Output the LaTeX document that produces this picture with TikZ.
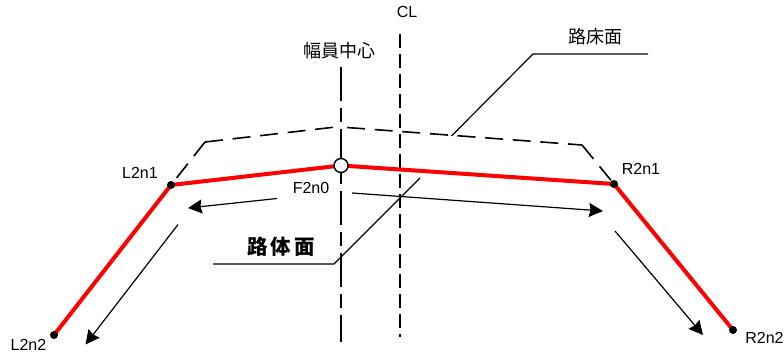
\documentclass[tikz,border=0pt]{standalone}
\usepackage{fontspec}
\setmainfont{Liberation Sans}
\newfontfamily\cjk{Noto Sans CJK JP}
\usetikzlibrary{arrows.meta}
\tikzset{
    redline/.style={red,line width=4pt},
    dashline/.style={line width=1.6pt,dash pattern=on 18pt off 9.7pt},
    clline/.style={line width=1.4pt,dash pattern=on 13.5pt off 6.5pt},
    centerline/.style={line width=1.4pt,dash pattern=on 34pt off 7pt on 14pt off 7pt},
    leader/.style={line width=1.2pt},
    dirarrow/.style={line width=1.2pt,-{Stealth[length=14pt,width=14pt,inset=1.5pt]}},
    dot/.style={circle,fill=black,inner sep=0pt,minimum size=8pt},
    hollow/.style={circle,draw=black,fill=white,line width=1.4pt,inner sep=0pt,minimum size=14pt},
    lbl/.style={inner sep=0pt,font=\fontsize{16}{18}\selectfont},
    jplbl/.style={inner sep=0pt,font=\fontsize{18}{20}\selectfont\cjk}
}
\begin{document}
\begin{tikzpicture}[x=1pt,y=-1pt]
    \useasboundingbox (0,0) rectangle (784,356);
    \coordinate (CLtop) at (400,34);
    \coordinate (CLbot) at (400,337);
    \coordinate (Ctop) at (341,67);
    \coordinate (Cbot) at (341,342);
    \coordinate (SL) at (205,142);
    \coordinate (SCl) at (333,127.3);
    \coordinate (SCr) at (347,127.5);
    \coordinate (SR) at (582,145);
    \coordinate (La) at (451.5,136);
    \coordinate (Lb) at (533,54);
    \coordinate (Lc) at (648,54);
    \coordinate (Ma) at (213,264);
    \coordinate (Mb) at (334,264);
    \coordinate (Mc) at (420,178);
    \coordinate (A1s) at (277,198.5);
    \coordinate (A1e) at (188,208);
    \coordinate (A2s) at (178,224.5);
    \coordinate (A2e) at (85.5,344.5);
    \coordinate (A3s) at (352,193);
    \coordinate (A3e) at (603,211);
    \coordinate (A4s) at (615,231);
    \coordinate (A4e) at (703,335);
    % reference lines
    \draw[clline] (CLtop) -- (CLbot);
    \draw[centerline] (Ctop) -- (Cbot);
    \coordinate (L2n2) at (54,335);
    \coordinate (L2n1) at (171,185);
    \coordinate (F2n0) at (341,165.5);
    \coordinate (R2n1) at (614,184);
    \coordinate (R2n2) at (733,330);
    \draw[dashline] (SCl) -- (SL);
    \draw[dashline] (SL) -- (L2n1);
    \draw[dashline] (SCr) -- (SR);
    \draw[dashline] (SR) -- (R2n1);
    \draw[leader] (La) -- (Lb) -- (Lc);
    \draw[leader] (Ma) -- (Mb) -- (Mc);
    \draw[redline] (L2n2) -- (L2n1) -- (F2n0) -- (R2n1) -- (R2n2);
    \node[dot] (L2n2dot) at (L2n2) {};
    \node[dot] (L2n1dot) at (L2n1) {};
    \node[dot] (R2n1dot) at (R2n1) {};
    \node[dot] (R2n2dot) at (R2n2) {};
    \node[hollow] (F2n0dot) at (F2n0) {};
    \draw[dirarrow] (A1s) -- (A1e);
    \draw[dirarrow] (A2s) -- (A2e);
    \draw[dirarrow] (A3s) -- (A3e);
    \draw[dirarrow] (A4s) -- (A4e);
    % labels
    \node[lbl] (L2n1text) at (140,173) {L2n1};
    \node[lbl] (L2n2text) at (28.5,345) {L2n2};
    \node[lbl] (F2n0text) at (311,188) {F2n0};
    \node[lbl] (R2n1text) at (641,169) {R2n1};
    \node[lbl] (R2n2text) at (764.5,338) {R2n2};
    \node[lbl] (CLtext) at (407,12) {CL};
    \node[jplbl] (centertext) at (339,51) {幅員中心};
    \node[jplbl] (subgradetext) at (595,37) {路床面};
    \node[inner sep=0pt,font=\fontsize{20.5}{22}\selectfont\cjk\bfseries] (surfacetext) at (281,247) {路\hspace{2.5pt}体\hspace{3.5pt}面};
\end{tikzpicture}
\end{document}
